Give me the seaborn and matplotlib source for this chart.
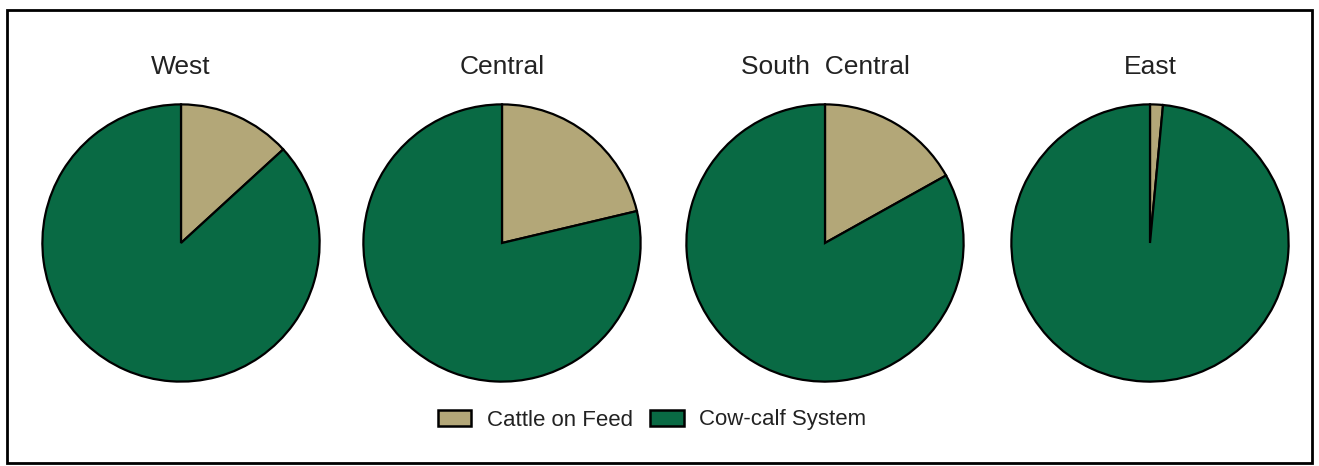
import matplotlib
matplotlib.use('Agg')

import seaborn as sns
from matplotlib import pyplot as plt
from matplotlib.patches import Patch, Rectangle

regions = ['West', 'Central', 'South  Central', 'East']
systems = ['Cattle on Feed', 'Cow-calf System']
cattle_on_feed = [13.2, 21.3, 16.9, 1.5]
cow_calf = [86.8, 78.7, 83.1, 98.5]

colors = ['#B3A778', '#096A44']
centers_x = [181, 502, 825, 1150]  # pixel centres of the pies

sns.set_theme(style='white')
plt.rcParams['font.family'] = ['Liberation Sans', 'DejaVu Sans']

W, H = 1319, 466
fig = plt.figure(figsize=(W / 100, H / 100), dpi=100)

r = 140
cy = 243
for name, cx, feed, calf in zip(regions, centers_x, cattle_on_feed, cow_calf):
    ax = fig.add_axes([(cx - r) / W, 1 - (cy + r) / H, 2 * r / W, 2 * r / H])
    ax.pie([feed, calf], colors=colors, startangle=90, counterclock=False,
           wedgeprops=dict(edgecolor='black', linewidth=1.6))
    ax.set_xlim(-1.01, 1.01)
    ax.set_ylim(-1.01, 1.01)
    ax.set_aspect('equal')
    ax.axis('off')
    fig.text(cx / W, 1 - 67 / H, name, ha='center', va='center', fontsize=19, color='#222222')

# legend
handles = [Patch(facecolor=c, edgecolor='black', linewidth=1.8, label=s) for c, s in zip(colors, systems)]
fig.legend(handles=handles, loc='center', bbox_to_anchor=(652 / W, 1 - 420 / H), ncol=2,
           frameon=False, fontsize=16, handlelength=1.5, handleheight=0.7, columnspacing=0.8,
           handletextpad=0.7, labelcolor='#222222')

# outer frame
fig.patches.append(Rectangle((7 / W, 3 / H), 1 - 14 / W, 1 - 13 / H, transform=fig.transFigure,
                             fill=False, edgecolor='black', linewidth=2))

fig.savefig('out.png', dpi=100, facecolor='white')
